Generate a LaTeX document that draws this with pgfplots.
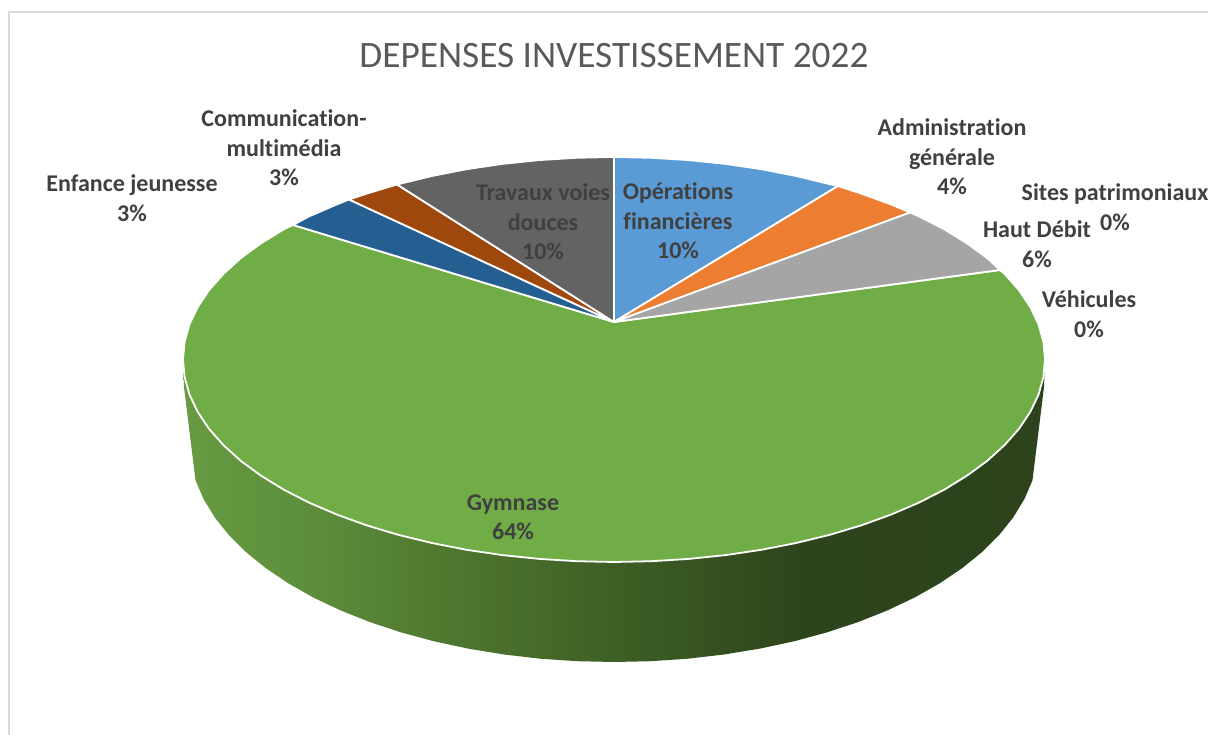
\documentclass[border=0pt]{standalone}
\usepackage{fontspec}
\setmainfont{Carlito}[Ligatures=NoCommon]
\usepackage{pgfplots}
\pgfplotsset{compat=1.18}

\definecolor{cBleu}{HTML}{5B9BD5}
\definecolor{cOrange}{HTML}{ED7D31}
\definecolor{cGris}{HTML}{A5A5A5}
\definecolor{cVert}{HTML}{70AD47}
\definecolor{cBleuF}{HTML}{255E91}
\definecolor{cBrun}{HTML}{9E480E}
\definecolor{cGrisF}{HTML}{636363}
\definecolor{cTitre}{HTML}{595959}
\definecolor{cTexte}{HTML}{404040}
\definecolor{cCadre}{HTML}{D9D9D9}

\definecolor{s1}{HTML}{679A41}
\definecolor{s2}{HTML}{5E8F3C}
\definecolor{s3}{HTML}{4E762E}
\definecolor{s4}{HTML}{3E5F25}
\definecolor{s5}{HTML}{2D451C}
\definecolor{s6}{HTML}{2C431B}
\pgfdeclarehorizontalshading{cote}{100bp}{
  color(0bp)=(s1); color(25bp)=(s1); color(31.8bp)=(s2); color(41bp)=(s3);
  color(50bp)=(s4); color(60.8bp)=(s5); color(75bp)=(s6); color(100bp)=(s6)}

\pgfplotsset{part/.style={draw=white, line width=1.8pt, line join=round}}
\tikzset{lab/.style={align=center, inner sep=0pt, text=cTexte, font=\fontsize{24}{29.5}\selectfont\bfseries}}

\begin{document}
\begin{tikzpicture}
\begin{axis}[
    scale only axis,
    width=1208pt, height=735pt,
    xmin=0, xmax=1208, ymin=0, ymax=735,
    y dir=reverse,
    axis lines=none,
    clip=false,
]
% cadre
\addplot[cCadre, line width=2pt] coordinates {(9,735) (9,12) (1208,12)};

% cote du gymnase
\addplot[shading=cote, draw=none] coordinates {
  (183,360) (184,387) (195.5,480.2) (203.5,498.9) (214.6,517.2) (228.8,535) (245.9,552)
  (265.9,568.2) (288.4,583.4) (313.5,597.6) (340.8,610.5) (370.2,622.2) (401.5,632.5)
  (434.4,641.4) (468.6,648.7) (504,654.5) (540.2,658.7) (577,661.2) (614,662)
  (651,661.2) (687.8,658.7) (724,654.5) (759.4,648.7) (793.6,641.4) (826.5,632.5)
  (857.8,622.2) (887.2,610.5) (914.5,597.6) (939.6,583.4) (962.1,568.2) (982.1,552)
  (999.2,535) (1013.4,517.2) (1024.5,498.9) (1032.5,480.2) (1044,387) (1045,360)
  (614,420) (183,360)
};

% Gymnase
\addplot[part, fill=cVert] coordinates {
  (614,322) (1000,270) (1004.6,273.9) (1019,290.2) (1030.3,307.1) (1038.5,324.3) (1043.4,341.9)
  (1045,359.5) (1043.4,377.1) (1038.5,394.7) (1030.3,411.9) (1019,428.8) (1004.6,445.1)
  (987.3,460.8) (967.1,475.6) (944.2,489.7) (918.8,502.7) (891,514.6) (861.2,525.4)
  (829.5,534.9) (796.1,543) (761.4,549.8) (725.6,555.1) (688.8,558.9) (651.6,561.2)
  (614,562) (576.4,561.2) (539.2,558.9) (502.4,555.1) (466.6,549.8) (431.9,543)
  (398.5,534.9) (366.8,525.4) (337,514.6) (309.2,502.7) (283.8,489.7) (260.9,475.6)
  (240.7,460.8) (223.4,445.1) (209,428.8) (197.7,411.9) (189.5,394.7) (184.6,377.1)
  (183,359.5) (184.6,341.9) (189.5,324.3) (197.7,307.1) (209,290.2) (223.4,273.9)
  (240.7,258.2) (260.9,243.4) (283.8,229.3) (293,225) (614,322)
};
% Operations financieres
\addplot[part, fill=cBleu] coordinates {
  (614,322) (614,157) (651.6,157.8) (688.8,160.1) (725.6,163.9) (761.4,169.2) (796.1,176)
  (829.5,184.1) (838,186) (614,322)
};
% Administration generale
\addplot[part, fill=cOrange] coordinates {
  (614,322) (838,186) (861.2,193.6) (891,204.4) (910,212.5) (614,322)
};
% Haut Debit
\addplot[part, fill=cGris] coordinates {
  (614,322) (910,212.5) (918.8,216.3) (944.2,229.3) (967.1,243.4) (987.3,258.2) (1000,270) (614,322)
};
% Enfance jeunesse
\addplot[part, fill=cBleuF] coordinates {
  (614,322) (293,225) (309.2,216.3) (337,204.4) (349,199.5) (614,322)
};
% Communication-multimedia
\addplot[part, fill=cBrun] coordinates {
  (614,322) (349,199.5) (366.8,193.6) (397,184.5) (614,322)
};
% Travaux voies douces
\addplot[part, fill=cGrisF] coordinates {
  (614,322) (397,184.5) (431.9,176) (466.6,169.2) (502.4,163.9) (539.2,160.1) (576.4,157.8)
  (614,157) (614,322)
};

\node[inner sep=0pt, text=cTitre, font=\fontsize{37.3}{40}\selectfont] at (axis cs:614,56) {DEPENSES INVESTISSEMENT 2022};

\node[lab] at (axis cs:284,148) {Communication-\\multimédia\\3\%};
\node[lab] at (axis cs:132,198) {Enfance jeunesse\\3\%};
\node[lab] at (axis cs:952,157) {Administration\\générale\\4\%};
\node[lab] at (axis cs:1115,207) {Sites patrimoniaux\\0\%};
\node[lab] at (axis cs:1037,244) {Haut Débit\\6\%};
\node[lab] at (axis cs:1089,314) {Véhicules\\0\%};
\node[lab] at (axis cs:678,221) {Opérations\\financières\\10\%};
\node[lab] at (axis cs:543,222) {Travaux voies\\douces\\10\%};
\node[lab] at (axis cs:513,517) {Gymnase\\64\%};
\end{axis}
% page exactly the size of the reference
\pgfresetboundingbox
\path (0,0) rectangle (1208pt,735pt);
\end{tikzpicture}
\end{document}
